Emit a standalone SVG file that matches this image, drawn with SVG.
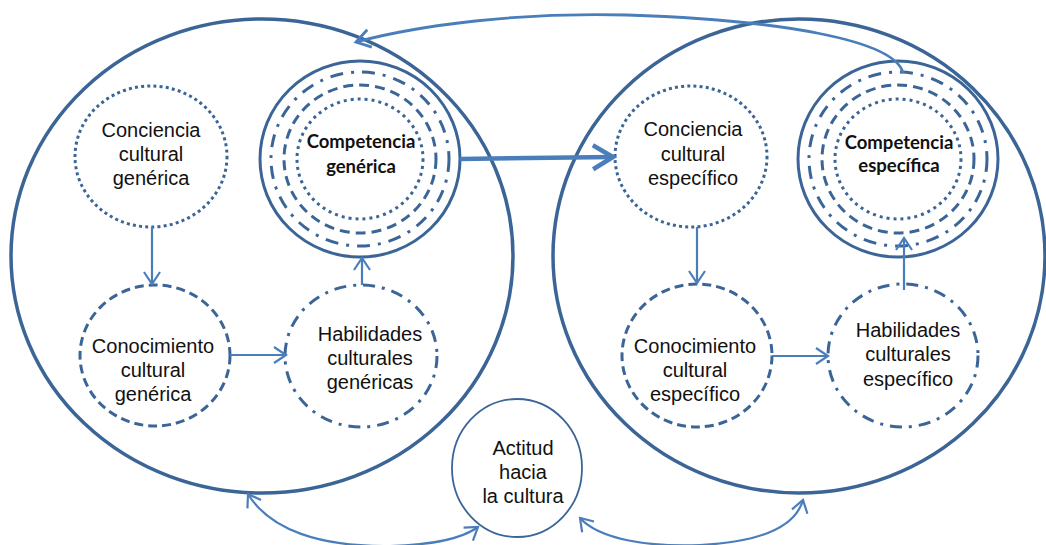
<svg xmlns="http://www.w3.org/2000/svg" width="1046" height="545" viewBox="0 0 1046 545">
  <style>
    .frame { fill: none; stroke: #3B6596; stroke-width: 3.5; }
    .ring { fill: none; stroke: #3B6596; stroke-width: 3; }
    .dot { stroke-dasharray: 3 3.2; }
    .dash { stroke-dasharray: 9 5; }
    .dashdot { stroke-dasharray: 12 7 3 7; }
    .cdot { stroke-dasharray: 3 4; }
    .cdash { stroke-dasharray: 10 6; }
    .cdashdot { stroke-dasharray: 13 8 3 8; }
    .thin { fill: none; stroke: #3B6596; stroke-width: 1.8; }
    .lbl { font-family: "Liberation Sans", Arial, sans-serif; font-size: 20px; fill: #111; text-anchor: middle; }
    .bold { font-family: Lato, "Liberation Sans", sans-serif; font-weight: bold; font-size: 18.5px; fill: #111; text-anchor: middle; }
    .link { fill: none; stroke: #4A7EBB; stroke-width: 2.2; }
    .loop { fill: none; stroke: #4A7EBB; stroke-width: 2.8; }
    .main { fill: none; stroke: #4A7EBB; stroke-width: 4.5; }
  </style>
  <defs>
    <marker id="arrow" markerUnits="userSpaceOnUse" viewBox="0 0 20 20" markerWidth="20" markerHeight="20" refX="14" refY="10" orient="auto">
      <path d="M2,2 L14,10 L2,18" fill="none" stroke="#4A7EBB" stroke-width="2.2"/>
    </marker>
    <marker id="arrowStart" markerUnits="userSpaceOnUse" viewBox="0 0 20 20" markerWidth="20" markerHeight="20" refX="6" refY="10" orient="auto">
      <path d="M18,2 L6,10 L18,18" fill="none" stroke="#4A7EBB" stroke-width="2.2"/>
    </marker>
    <marker id="arrowLoop" markerUnits="userSpaceOnUse" viewBox="0 0 24 24" markerWidth="24" markerHeight="24" refX="17" refY="12" orient="auto">
      <path d="M3,3 L17,12 L3,21" fill="none" stroke="#4A7EBB" stroke-width="2.8"/>
    </marker>
    <marker id="arrowBig" markerUnits="userSpaceOnUse" viewBox="0 0 32 32" markerWidth="32" markerHeight="32" refX="25" refY="16" orient="auto">
      <path d="M5,4 L25,16 L5,28" fill="none" stroke="#4A7EBB" stroke-width="4.5"/>
    </marker>
  </defs>

  <!-- two large groupings -->
  <g id="grupo-generico">
    <ellipse class="frame" cx="262" cy="256" rx="251" ry="237"/>
  </g>
  <g id="grupo-especifico">
    <ellipse class="frame" cx="799" cy="256" rx="246" ry="237"/>
  </g>

  <!-- generic side -->
  <g id="conciencia-generica">
    <ellipse class="ring dot" cx="151" cy="156.5" rx="76" ry="70.5"/>
    <text class="lbl" x="151" y="137">Conciencia</text>
    <text class="lbl" x="151" y="161">cultural</text>
    <text class="lbl" x="151" y="185">genérica</text>
  </g>
  <g id="conocimiento-generico">
    <ellipse class="ring dash" cx="155" cy="355.5" rx="75" ry="70.5"/>
    <text class="lbl" x="153" y="353">Conocimiento</text>
    <text class="lbl" x="153" y="377">cultural</text>
    <text class="lbl" x="153" y="401">genérica</text>
  </g>
  <g id="habilidades-genericas">
    <ellipse class="ring dashdot" cx="361" cy="356" rx="76" ry="71"/>
    <text class="lbl" x="370" y="341">Habilidades</text>
    <text class="lbl" x="370" y="365">culturales</text>
    <text class="lbl" x="370" y="389">genéricas</text>
  </g>
  <g id="competencia-generica">
    <ellipse class="ring" cx="360" cy="159" rx="100" ry="98"/>
    <ellipse class="ring cdashdot" cx="360" cy="159" rx="89" ry="87"/>
    <ellipse class="ring cdash" cx="360" cy="159" rx="76" ry="74"/>
    <ellipse class="ring cdot" cx="360" cy="159" rx="63" ry="60"/>
    <text class="bold" x="361" y="148">Competencia</text>
    <text class="bold" x="361" y="173">genérica</text>
  </g>

  <!-- specific side -->
  <g id="conciencia-especifica">
    <ellipse class="ring dot" cx="691" cy="156.5" rx="76" ry="70.5"/>
    <text class="lbl" x="693" y="136">Conciencia</text>
    <text class="lbl" x="693" y="161">cultural</text>
    <text class="lbl" x="693" y="185">específico</text>
  </g>
  <g id="conocimiento-especifico">
    <ellipse class="ring dash" cx="697" cy="355.5" rx="75" ry="71.5"/>
    <text class="lbl" x="695" y="353">Conocimiento</text>
    <text class="lbl" x="695" y="377">cultural</text>
    <text class="lbl" x="695" y="401">específico</text>
  </g>
  <g id="habilidades-especificas">
    <ellipse class="ring dashdot" cx="903" cy="355.5" rx="75" ry="71.5"/>
    <text class="lbl" x="908" y="337">Habilidades</text>
    <text class="lbl" x="908" y="361">culturales</text>
    <text class="lbl" x="908" y="386">específico</text>
  </g>
  <g id="competencia-especifica">
    <ellipse class="ring" cx="898" cy="159" rx="100" ry="98"/>
    <ellipse class="ring cdashdot" cx="898" cy="159" rx="89" ry="87"/>
    <ellipse class="ring cdash" cx="898" cy="159" rx="76" ry="74"/>
    <ellipse class="ring cdot" cx="898" cy="159" rx="63" ry="60"/>
    <text class="bold" x="899" y="149">Competencia</text>
    <text class="bold" x="899" y="172">específica</text>
  </g>

  <!-- attitude -->
  <g id="actitud">
    <ellipse class="thin" cx="517" cy="468" rx="65" ry="69"/>
    <text class="lbl" x="523" y="455">Actitud</text>
    <text class="lbl" x="523" y="479">hacia</text>
    <text class="lbl" x="523" y="503">la cultura</text>
  </g>

  <!-- connectors -->
  <g id="conectores">
    <path class="link" d="M152,227 L152,284" marker-end="url(#arrow)"/>
    <path class="link" d="M230,355 L286,355" marker-end="url(#arrow)"/>
    <path class="link" d="M362,285 L362,258" marker-end="url(#arrow)"/>
    <path class="main" d="M460,159 L613,157" marker-end="url(#arrowBig)"/>
    <path class="link" d="M697,227 L697,283" marker-end="url(#arrow)"/>
    <path class="link" d="M772,356 L828,356" marker-end="url(#arrow)"/>
    <path class="link" d="M904,290 L904,238" marker-end="url(#arrow)"/>
    <path class="loop" d="M903,73 C895,40 780,20 627,15 C520,12 420,25 356,42" marker-end="url(#arrowLoop)"/>
    <path class="link" d="M478,527 C460,540 430,545 390,546 C320,547 270,530 248,494" marker-start="url(#arrowStart)" marker-end="url(#arrow)"/>
    <path class="link" d="M580,518 C600,540 650,547 700,545 C760,542 795,528 803,500" marker-start="url(#arrowStart)" marker-end="url(#arrow)"/>
  </g>
</svg>
